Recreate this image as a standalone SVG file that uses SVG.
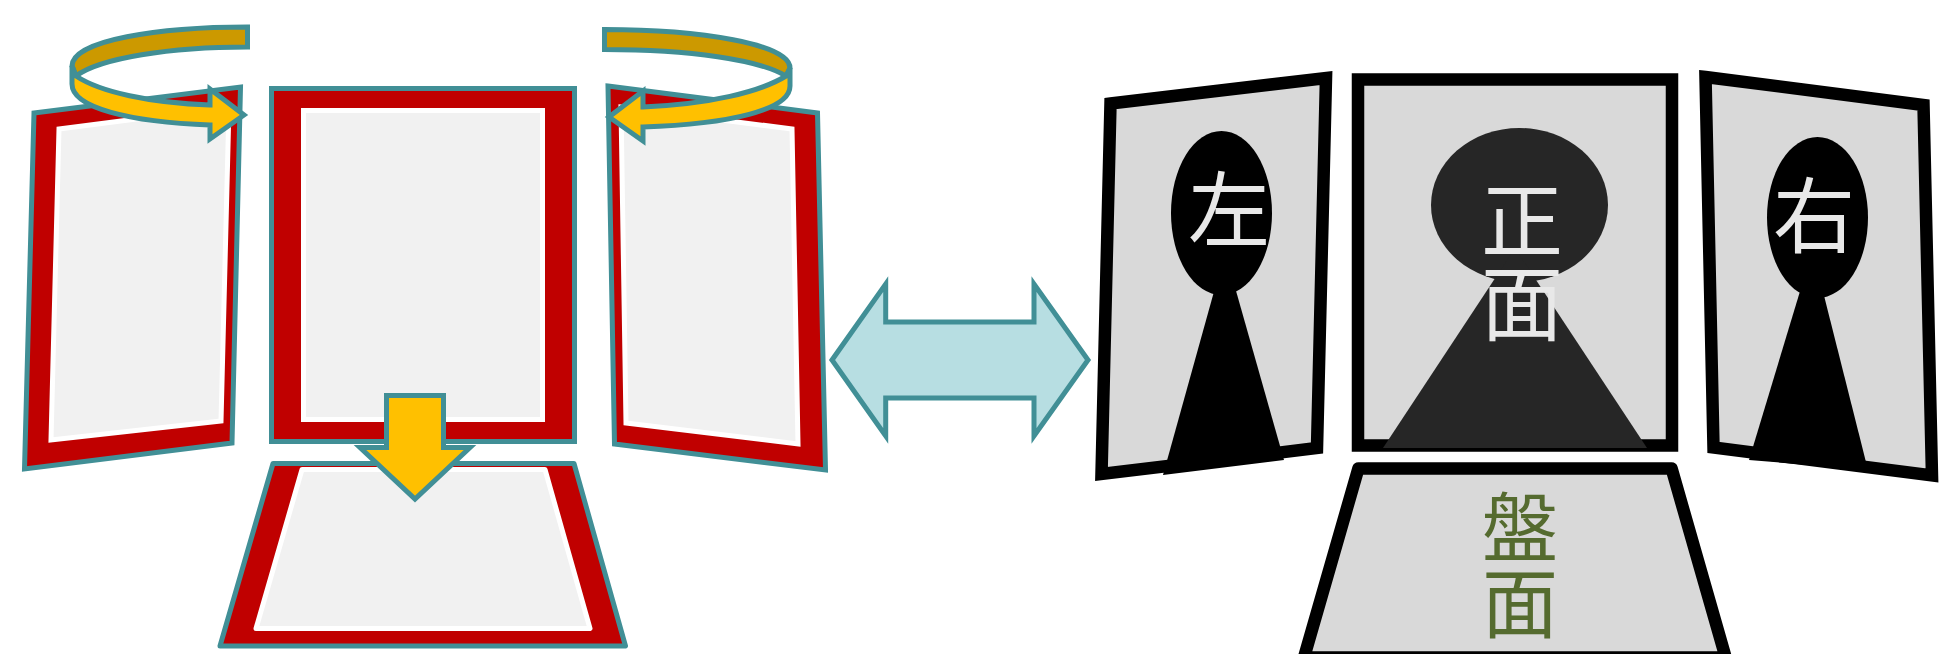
<svg xmlns="http://www.w3.org/2000/svg" width="1956" height="654" viewBox="0 0 1956 654">
<style>
.frame{fill:#C00000;stroke:#418F96;stroke-width:5}
.pane{fill:#F1F1F1;stroke:#FFFFFF;stroke-width:5}
.arrow{stroke:#418F96;stroke-width:5}
.front{fill:#FFC000}
.back{fill:#CC9900}
.screen{fill:#D9D9D9;stroke:#000000;stroke-width:12.5}
.label{font-family:"Noto Sans CJK SC","Noto Sans CJK JP",sans-serif;text-anchor:middle}
.lt{fill:#E8E8E8}
</style>
<rect width="1956" height="654" fill="#FFFFFF"/>
<g id="panel-left">
<polygon class="frame" points="34,113 240.5,87 232,443 24.5,469"/>
<polygon class="pane" points="59,129 229,107 221,421 51,440"/>
</g>
<g id="panel-center">
<polygon class="frame" points="271.5,88.5 574.5,88.5 574.5,441.5 271.5,441.5"/>
<polygon class="pane" points="303.5,110.5 542.5,110.5 542.5,419.5 303.5,419.5"/>
</g>
<g id="panel-right">
<polygon class="frame" points="608,86 817.5,113 825.5,470 614.5,444"/>
<polygon class="pane" points="621,107 792,129 798,444 626,423"/>
</g>
<g id="panel-bottom">
<polygon class="frame" stroke-linejoin="round" points="273,463.5 574,463.5 625.5,646 220,646"/>
<polygon class="pane" stroke-linejoin="round" points="302,469.5 545,469.5 590,628.5 256,628.5"/>
</g>
<g id="connectors">
<path class="arrow back" d="M247.5,27C160,27 72,40 72,66L76,76C100,58 170,47 247.5,47Z"/>
<path class="arrow front" d="M76,76C100,92 150,103 210,105L210,89L244,115L210,139L210,125C130,122 72,108 72,84L72,66Z"/>
<path class="arrow back" d="M604.5,29.5C700,29.5 790,44 790,68L786,76C760,60 690,49.5 604.5,49.5Z"/>
<path class="arrow front" d="M786,76C760,92 710,104 643,107L643,91L609,117L643,141L643,127C730,124 790,110 790,86L790,68Z"/>
<polygon class="arrow front" points="386.5,395.5 443.5,395.5 443.5,447.5 470,447.5 415,499 360,447.5 386.5,447.5"/>
<polygon class="arrow" fill="#B7DEE2" points="832,360 885.7,284 885.7,322 1034,322 1034,284 1088,360 1034,436 1034,398 885.7,398 885.7,436"/>
</g>
<g id="screen-left">
<polygon class="screen" points="1110.5,103.5 1326,78 1317,448 1101.5,474"/>
<ellipse cx="1221.5" cy="213" rx="50.5" ry="82" fill="#000000"/>
<polygon points="1225,252 1284,460 1163,475" fill="#000000"/>
<text class="label lt" x="1229" y="240" font-size="82">左</text>
</g>
<g id="screen-center">
<polygon class="screen" points="1358,79.5 1672,79.5 1672,445.5 1358,445.5"/>
<ellipse cx="1519.5" cy="205" rx="88.5" ry="77" fill="#262626"/>
<polygon points="1515,248 1647,448 1383,448" fill="#262626"/>
<text class="label lt" x="1522" y="251" font-size="82">正</text>
<text class="label lt" x="1522" y="334" font-size="82">面</text>
</g>
<g id="screen-right">
<polygon class="screen" points="1705.5,77 1923.5,105 1932,475.5 1713.5,447.5"/>
<ellipse cx="1817.5" cy="217.5" rx="50.5" ry="80.5" fill="#000000"/>
<polygon points="1812.5,250 1868,470 1749,460" fill="#000000"/>
<text class="label lt" x="1814" y="246" font-size="82">右</text>
</g>
<g id="screen-bottom">
<polygon class="screen" stroke-linejoin="round" points="1358.4,468.5 1671.6,468.5 1725.7,657.5 1304,657.5"/>
<text class="label" fill="#556B2F" x="1520" y="556" font-size="76">盤</text>
<text class="label" fill="#556B2F" x="1520" y="632" font-size="76">面</text>
</g>
</svg>
